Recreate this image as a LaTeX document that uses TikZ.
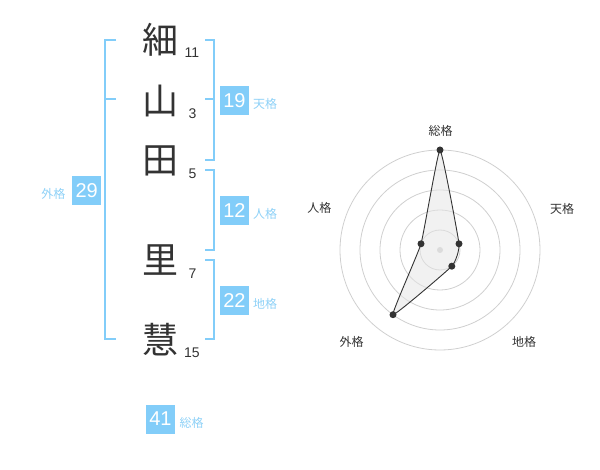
\documentclass[tikz,border=0pt]{standalone}
\usepackage{fontspec}
\setmainfont{Liberation Sans}
\newfontfamily\jp{Noto Sans CJK JP}
\definecolor{kblue}{HTML}{82CDF9}
\definecolor{klabel}{HTML}{8ED1F7}
\definecolor{kdark}{HTML}{333333}
\definecolor{kgrid}{HTML}{CFCFCF}
\tikzset{
  kanji/.style={font=\jp\fontsize{36}{36}\selectfont, text=kdark, inner sep=0pt},
  stroke/.style={font=\fontsize{14}{14}\selectfont, text=kdark, inner sep=0pt},
  numbox/.style={fill=kblue, text=white, minimum width=29pt, minimum height=29pt, inner sep=0pt, font=\fontsize{20}{20}\selectfont},
  kakulabel/.style={font=\jp\fontsize{12}{12}\selectfont, text=klabel, inner sep=0pt},
  bracket/.style={draw=kblue, line width=2pt},
  radarlabel/.style={font=\jp\fontsize{12}{12}\selectfont, text=kdark, inner sep=0pt},
  grid/.style={draw=kgrid, line width=0.8pt},
  pointdot/.style={circle, fill=kdark, minimum size=7pt, inner sep=0pt},
}
\begin{document}
\begin{tikzpicture}[x=1pt,y=-1pt]
\useasboundingbox (0,0) rectangle (600,470);
% characters
\node[kanji] (k1) at (160,40) {細};
\node[kanji] (k2) at (160,101) {山};
\node[kanji] (k3) at (160,161) {田};
\node[kanji] (k4) at (160,260) {里};
\node[kanji] (k5) at (160,340) {慧};
% stroke counts
\node[stroke] (s1) at (192,53) {11};
\node[stroke] (s2) at (192.5,113.5) {3};
\node[stroke] (s3) at (192.5,173.5) {5};
\node[stroke] (s4) at (192.5,273.5) {7};
\node[stroke] (s5) at (192,353) {15};
% brackets
\draw[bracket] (116,40) -- (105,40) -- (105,339) -- (116,339);
\draw[bracket] (105,99.5) -- (116,99.5);
\draw[bracket] (205,40) -- (214,40) -- (214,160) -- (205,160);
\draw[bracket] (205,99.5) -- (214,99.5);
\draw[bracket] (205,170) -- (214,170) -- (214,250) -- (205,250);
\draw[bracket] (205,260) -- (214,260) -- (214,339) -- (205,339);
% boxes and labels
\node[numbox] (ten) at (234.5,100.3) {19};
\node[kakulabel] (tenl) at (265,103.5) {天格};
\node[numbox] (jin) at (234.5,210.5) {12};
\node[kakulabel] (jinl) at (265,213.5) {人格};
\node[numbox] (chi) at (234.5,300.3) {22};
\node[kakulabel] (chil) at (265,303.5) {地格};
\node[numbox] (gai) at (86.7,190.3) {29};
\node[kakulabel] (gail) at (53.3,194) {外格};
\node[numbox] (sou) at (160.5,419) {41};
\node[kakulabel] (soul) at (191.5,423) {総格};
% radar
\coordinate (c) at (440,250);
\foreach \r in {20,40,60,80,100} \draw[grid] (c) circle (\r);
\fill[kgrid] (c) circle (3);
\coordinate (pSou) at (440,150);
\coordinate (pTen) at (459.0,243.8);
\coordinate (pChi) at (451.8,266.2);
\coordinate (pGai) at (393.0,314.7);
\coordinate (pJin) at (421.0,243.8);
\draw[kdark, line width=0.9pt, fill=black!10, fill opacity=0.55] plot[smooth cycle, tension=0.2] coordinates {(pSou) (pTen) (pChi) (pGai) (pJin)};
\foreach \p in {pSou,pTen,pChi,pGai,pJin} \node[pointdot] (d\p) at (\p) {};
\node[radarlabel] (rSou) at (440.5,131) {総格};
\node[radarlabel] (rTen) at (562,208.5) {天格};
\node[radarlabel] (rChi) at (524,341.5) {地格};
\node[radarlabel] (rGai) at (351.7,341.5) {外格};
\node[radarlabel] (rJin) at (319.3,208.3) {人格};
\end{tikzpicture}
\end{document}
